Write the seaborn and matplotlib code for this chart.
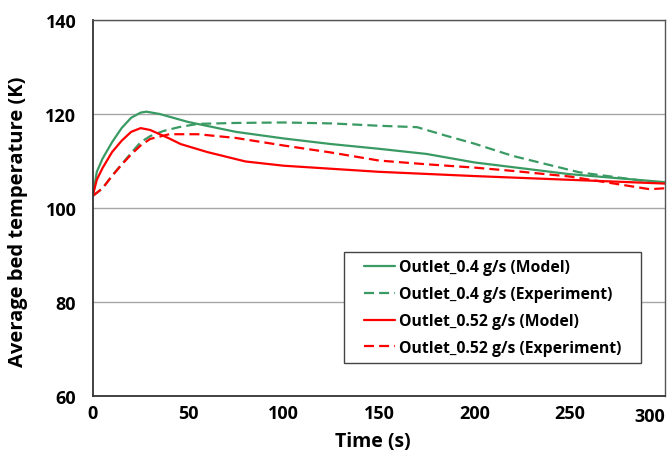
import pandas as pd
import numpy as np
import matplotlib
matplotlib.use('Agg')
import matplotlib.pyplot as plt
import seaborn as sns
from matplotlib.patches import Rectangle

# 讀圖估計的數據
t_model_04 = [0, 2, 5, 10, 15, 20, 25, 28, 35, 50, 75, 100, 125, 150, 175, 200, 250, 300]
T_model_04 = [102.8, 107.7, 110.5, 114.0, 117.0, 119.2, 120.3, 120.5, 120.0, 118.3, 116.2, 114.8, 113.6, 112.6, 111.5, 109.7, 107.2, 105.5]

t_exp_04 = [0, 5, 10, 15, 20, 25, 30, 37, 45, 55, 75, 100, 125, 150, 170, 185, 200, 220, 255, 292, 300]
T_exp_04 = [102.6, 104.2, 106.9, 109.3, 111.7, 114.0, 115.3, 116.4, 117.2, 117.9, 118.1, 118.2, 118.0, 117.5, 117.2, 115.4, 113.7, 111.1, 107.6, 105.6, 105.3]

t_model_052 = [0, 2, 5, 10, 15, 20, 25, 30, 40, 46, 60, 80, 100, 150, 200, 250, 300]
T_model_052 = [102.8, 106.0, 108.5, 111.9, 114.3, 116.2, 117.0, 116.6, 114.8, 113.6, 111.9, 109.9, 109.0, 107.7, 106.8, 106.0, 105.2]

t_exp_052 = [0, 5, 10, 15, 20, 25, 30, 40, 55, 75, 100, 125, 150, 175, 200, 220, 250, 292, 300]
T_exp_052 = [102.6, 104.2, 106.8, 109.2, 111.4, 113.3, 114.7, 115.7, 115.7, 114.9, 113.3, 111.8, 110.1, 109.3, 108.6, 107.9, 106.7, 104.0, 104.2]

labels = ['Outlet_0.4 g/s (Model)', 'Outlet_0.4 g/s (Experiment)',
          'Outlet_0.52 g/s (Model)', 'Outlet_0.52 g/s (Experiment)']
x_ticks = [0, 50, 100, 150, 200, 250, 300]
y_ticks = [60, 80, 100, 120, 140]

green = '#3A9A63'
red = '#FF0000'

sns.set_style('white')
plt.rcParams['font.family'] = ['Open Sans', 'DejaVu Sans']
plt.rcParams['font.weight'] = 'bold'
plt.rcParams['text.color'] = 'black'
plt.rcParams['axes.labelcolor'] = 'black'
plt.rcParams['xtick.color'] = 'black'
plt.rcParams['ytick.color'] = 'black'

fig = plt.figure(figsize=(6.69, 4.64), dpi=100)
ax = fig.add_axes([0.139, 0.1444, 0.855, 0.8103])

dash = (0, (4.5, 2.3))
series = [
    (t_model_04, T_model_04, labels[0], green, '-'),
    (t_exp_04, T_exp_04, labels[1], green, dash),
    (t_model_052, T_model_052, labels[2], red, '-'),
    (t_exp_052, T_exp_052, labels[3], red, dash),
]
for t, T, lab, col, ls in series:
    sns.lineplot(x=t, y=T, ax=ax, color=col, linewidth=1.6, label=lab, linestyle=ls)

ax.set_xlim(x_ticks[0], x_ticks[-1])
ax.set_ylim(y_ticks[0], y_ticks[-1])
ax.set_xticks(x_ticks)
ax.set_yticks(y_ticks)
# 最後一個刻度標籤另外畫（Excel 會往內推）
ax.set_xticklabels([str(v) for v in x_ticks[:-1]] + [''])
ax.annotate(str(x_ticks[-1]), xy=(x_ticks[-1], 0), xycoords=('data', 'axes fraction'),
            xytext=(0, -8), textcoords='offset points', ha='right', va='top',
            fontsize=13, fontweight='bold', color='black')

ax.grid(True, axis='y', color='#a6a6a6', linewidth=1)
ax.set_axisbelow(True)
ax.tick_params(axis='x', direction='in', length=5, width=1, color='#333333', pad=6)
ax.tick_params(axis='y', length=0, pad=12)
for lbl in ax.get_xticklabels() + ax.get_yticklabels():
    lbl.set_fontsize(13)
    lbl.set_fontweight('bold')
for side in ['left', 'bottom']:
    ax.spines[side].set_color('#333333')
    ax.spines[side].set_linewidth(1.3)
for side in ['top', 'right']:
    ax.spines[side].set_color('#555555')
    ax.spines[side].set_linewidth(1)

ax.set_xlabel('Time (s)', fontsize=14, fontweight='bold')
ax.set_ylabel('Average bed temperature (K)', fontsize=14.5, fontweight='bold')
ax.xaxis.set_label_coords(0.4886, -0.093)
ax.yaxis.set_label_coords(-0.114, 0.467)

leg = ax.legend(loc='lower right', bbox_to_anchor=(0.936, 0.088), borderaxespad=0,
                fontsize=11.3, frameon=False,
                handlelength=2.0, handletextpad=0.25, labelspacing=0.69, borderpad=0.45)
for txt in leg.get_texts():
    txt.set_fontweight('bold')

# 圖例外框：左右留白比上下多
fig.canvas.draw()
bb = leg.get_window_extent()
inv = ax.transAxes.inverted()
(x0, y0), (x1, y1) = inv.transform([(bb.x0 - 12.5, bb.y0), (bb.x1 + 12.5, bb.y1)])
ax.add_patch(Rectangle((x0, y0), x1 - x0, y1 - y0, transform=ax.transAxes,
                       facecolor='white', edgecolor='#444444', linewidth=1, zorder=4.9))

fig.savefig('out.png', dpi=100)
